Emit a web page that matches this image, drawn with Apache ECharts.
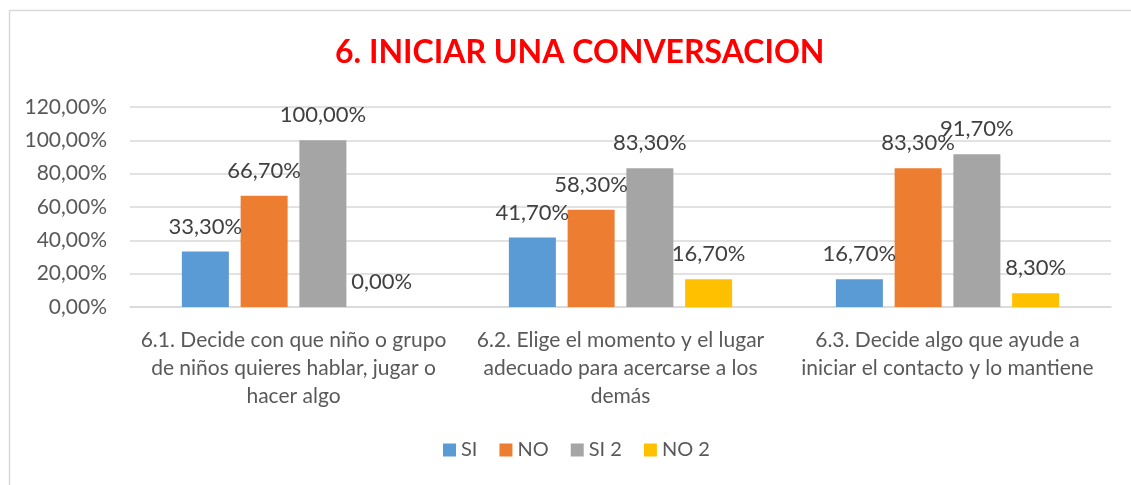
<!DOCTYPE html>
<html>
<head>
<meta charset="utf-8">
<script src="https://cdn.jsdelivr.net/npm/echarts@6/dist/echarts.min.js"></script>
<style>
html,body{margin:0;padding:0;background:#fff;}
#chart{width:1131px;height:485px;}
</style>
</head>
<body>
<div id="chart"></div>
<script>
const titleText = '6. INICIAR UNA CONVERSACION';
const categories = [
  '6.1. Decide con que niño o grupo\nde niños quieres hablar, jugar o\nhacer algo',
  '6.2. Elige el momento y el lugar\nadecuado para acercarse a los\ndemás',
  '6.3. Decide algo que ayude a\niniciar el contacto y lo mantiene'
];
const seriesNames = ['SI', 'NO', 'SI 2', 'NO 2'];
const siValues = [33.3, 41.7, 16.7];
const noValues = [66.7, 58.3, 83.3];
const si2Values = [100.0, 83.3, 91.7];
const no2Values = [0.0, 16.7, 8.3];
const colors = ['#5B9BD5', '#ED7D31', '#A5A5A5', '#FFC000'];
const yTicks = [0, 20, 40, 60, 80, 100, 120];

const fontFam = 'Lato, "Noto Sans", sans-serif';
const fmtPct = v => v.toFixed(2).replace('.', ',') + '%';

const allValues = [siValues, noValues, si2Values, no2Values];

const chart = echarts.init(document.getElementById('chart'), null, {renderer: 'canvas'});
chart.setOption({
  animation: false,
  backgroundColor: '#ffffff',
  graphic: [{
    type: 'rect',
    left: 7, top: 8,
    shape: {width: 1140, height: 500},
    style: {fill: 'none', stroke: '#D9D9D9', lineWidth: 1.5},
    silent: true
  }],
  title: {
    text: titleText,
    left: 330,
    top: 32,
    textStyle: {color: '#FF0000', fontWeight: 'bold', fontSize: 32, fontFamily: fontFam}
  },
  legend: {
    data: seriesNames,
    top: 440,
    left: 443,
    padding: 0,
    itemWidth: 13,
    itemHeight: 13,
    itemGap: 22,
    icon: 'rect',
    textStyle: {color: '#595959', fontSize: 20, fontFamily: fontFam}
  },
  grid: {left: 130, right: 20, top: 107, bottom: 178, containLabel: false},
  xAxis: {
    type: 'category',
    data: categories,
    axisLine: {show: true, lineStyle: {color: '#D9D9D9', width: 1.5}},
    axisTick: {show: false},
    axisLabel: {
      interval: 0,
      color: '#595959',
      fontSize: 21,
      fontFamily: fontFam,
      lineHeight: 28,
      margin: 19,
      align: 'center'
    }
  },
  yAxis: {
    type: 'value',
    min: yTicks[0],
    max: yTicks[yTicks.length - 1],
    interval: yTicks[1] - yTicks[0],
    axisLine: {show: false},
    axisTick: {show: false},
    splitLine: {lineStyle: {color: '#D9D9D9', width: 1.5}},
    axisLabel: {
      color: '#595959',
      fontSize: 21,
      fontFamily: fontFam,
      margin: 23,
      formatter: v => fmtPct(v)
    }
  },
  series: seriesNames.map((name, i) => ({
    name: name,
    type: 'bar',
    data: allValues[i],
    barWidth: 47,
    barGap: '25%',
    itemStyle: {color: colors[i]},
    label: {
      show: true,
      position: 'top',
      distance: 14,
      color: '#404040',
      fontSize: 22,
      fontFamily: fontFam,
      formatter: p => fmtPct(p.value)
    }
  }))
});
</script>
</body>
</html>
